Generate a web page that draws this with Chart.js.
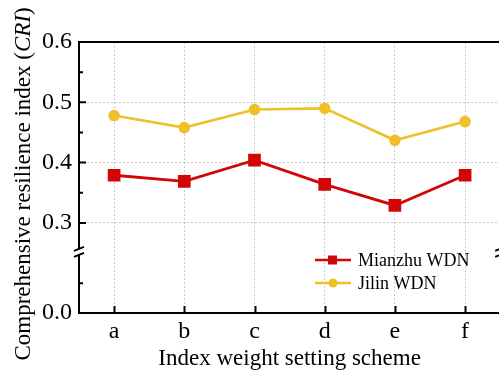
<!DOCTYPE html>
<html>
<head>
<meta charset="utf-8">
<script src="https://cdn.jsdelivr.net/npm/chart.js@4"></script>
<style>
  html, body { margin: 0; padding: 0; background: #fff; overflow: hidden; }
  #wrap { width: 510px; height: 374px; }
</style>
</head>
<body>
<div id="wrap"><canvas id="cri-chart" width="510" height="374"></canvas></div>
<script>
// CRI of two WDNs under the index weight setting schemes

const schemes = ['a', 'b', 'c', 'd', 'e', 'f'];
const mianzhuCRI = [0.379, 0.369, 0.404, 0.364, 0.329, 0.379];
const jilinCRI = [0.478, 0.458, 0.488, 0.490, 0.437, 0.468];

// broken y axis: upper part 0.3 - 0.6, lower part only shows 0.0
const yMajorTicks = [0.3, 0.4, 0.5, 0.6];
const yMinorTicks = [0.35, 0.45, 0.55];
const yZeroLabel = '0.0';

// where the lower segment sits on the linear scale
const AXIS_ZERO = 0.1506;
const AXIS_BREAK = 0.252;
const LOWER_MINOR = 0.2;

const FONT = "'Liberation Serif', 'Times New Roman', serif";
const RED = '#d20606';
const YELLOW = '#f0c02c';

// frame, inside ticks, axis break, legend and axis titles
const framePlugin = {
  id: 'frame',
  afterDraw(chart) {
    const ctx = chart.ctx;
    const { left, top, right, bottom } = chart.chartArea;
    const x = chart.scales.x;
    const y = chart.scales.y;

    ctx.save();
    ctx.strokeStyle = '#000';
    ctx.lineWidth = 2;
    ctx.strokeRect(left, top, right - left, bottom - top);

    // ticks pointing inward
    ctx.beginPath();
    schemes.forEach((s, i) => {
      const px = Math.round(x.getPixelForValue(i)) + 0.5;
      ctx.moveTo(px, bottom);
      ctx.lineTo(px, bottom - 7);
    });
    yMajorTicks.forEach(v => {
      const py = y.getPixelForValue(v);
      ctx.moveTo(left, py);
      ctx.lineTo(left + 7, py);
    });
    yMinorTicks.concat([LOWER_MINOR]).forEach(v => {
      const py = y.getPixelForValue(v);
      ctx.moveTo(left, py);
      ctx.lineTo(left + 4, py);
    });
    ctx.stroke();

    // break marks on both vertical axes
    const by = y.getPixelForValue(AXIS_BREAK);
    [left, right].forEach(ax => {
      ctx.fillStyle = '#fff';
      ctx.fillRect(ax - 2, by - 2.5, 4, 5);
      ctx.beginPath();
      [-3, 3].forEach(d => {
        ctx.moveTo(ax - 5, by + d + 2);
        ctx.lineTo(ax + 5, by + d - 2);
      });
      ctx.lineWidth = 2;
      ctx.stroke();
    });

    // legend
    const rows = [
      { label: 'Mianzhu WDN', color: RED, style: 'rect', y: 260 },
      { label: 'Jilin WDN', color: YELLOW, style: 'circle', y: 283 },
    ];
    rows.forEach(r => {
      ctx.strokeStyle = r.color;
      ctx.fillStyle = r.color;
      ctx.lineWidth = 2.5;
      ctx.beginPath();
      ctx.moveTo(315, r.y);
      ctx.lineTo(351, r.y);
      ctx.stroke();
      if (r.style === 'rect') {
        ctx.fillRect(328, r.y - 4.5, 9, 9);
      } else {
        ctx.beginPath();
        ctx.arc(333, r.y, 4.5, 0, Math.PI * 2);
        ctx.fill();
      }
      ctx.fillStyle = '#000';
      ctx.font = '18px ' + FONT;
      ctx.textBaseline = 'middle';
      ctx.textAlign = 'left';
      ctx.fillText(r.label, 358, r.y + 1);
    });

    // x title
    ctx.font = '23px ' + FONT;
    ctx.textAlign = 'center';
    ctx.textBaseline = 'alphabetic';
    ctx.fillText('Index weight setting scheme', (left + right) / 2, 365);

    // y title with italic CRI
    const parts = [
      { t: 'Comprehensive resilience index (', f: '23px ' + FONT },
      { t: 'CRI', f: 'italic 23px ' + FONT },
      { t: ')', f: '23px ' + FONT },
    ];
    let total = 0;
    parts.forEach(p => { ctx.font = p.f; p.w = ctx.measureText(p.t).width; total += p.w; });
    ctx.translate(30, 184);
    ctx.rotate(-Math.PI / 2);
    ctx.textAlign = 'left';
    let cx = -total / 2;
    parts.forEach(p => {
      ctx.font = p.f;
      ctx.fillText(p.t, cx, 0);
      cx += p.w;
    });
    ctx.restore();
  }
};

const ctx = document.getElementById('cri-chart').getContext('2d');
new Chart(ctx, {
  type: 'line',
  data: {
    labels: schemes,
    datasets: [
      {
        label: 'Mianzhu WDN',
        data: mianzhuCRI,
        borderColor: RED,
        backgroundColor: RED,
        borderWidth: 2.8,
        pointStyle: 'rect',
        pointRadius: 7,
        tension: 0,
      },
      {
        label: 'Jilin WDN',
        data: jilinCRI,
        borderColor: YELLOW,
        backgroundColor: YELLOW,
        borderWidth: 2.6,
        pointStyle: 'circle',
        pointRadius: 4.5,
        tension: 0,
      }
    ]
  },
  options: {
    responsive: false,
    animation: false,
    devicePixelRatio: 1,
    layout: { padding: { top: 42, right: 7, left: 0, bottom: 0 } },
    plugins: {
      legend: { display: false },
      tooltip: { enabled: false }
    },
    scales: {
      x: {
        offset: true,
        afterFit: (scale) => { scale.height = 61; },
        grid: {
          offset: false,
          drawTicks: false,
          color: 'rgba(0,0,0,0.2)',
          lineWidth: 1,
        },
        border: { display: false, dash: [2, 2] },
        ticks: {
          color: '#000',
          padding: 4,
          font: { family: FONT, size: 24 }
        }
      },
      y: {
        min: AXIS_ZERO,
        max: 0.6,
        afterFit: (scale) => { scale.width = 79; },
        afterBuildTicks: (scale) => {
          scale.ticks = [AXIS_ZERO].concat(yMajorTicks).map(v => ({ value: v }));
        },
        grid: {
          drawTicks: false,
          color: (c) => (c.tick && c.tick.value > AXIS_ZERO && c.tick.value < 0.6) ? 'rgba(0,0,0,0.2)' : 'rgba(0,0,0,0)',
          lineWidth: 1,
        },
        border: { display: false, dash: [2, 2] },
        ticks: {
          color: '#000',
          padding: 7,
          font: { family: FONT, size: 24 },
          callback: (v) => v === AXIS_ZERO ? yZeroLabel : Number(v).toFixed(1)
        }
      }
    }
  },
  plugins: [framePlugin]
});
</script>
</body>
</html>
